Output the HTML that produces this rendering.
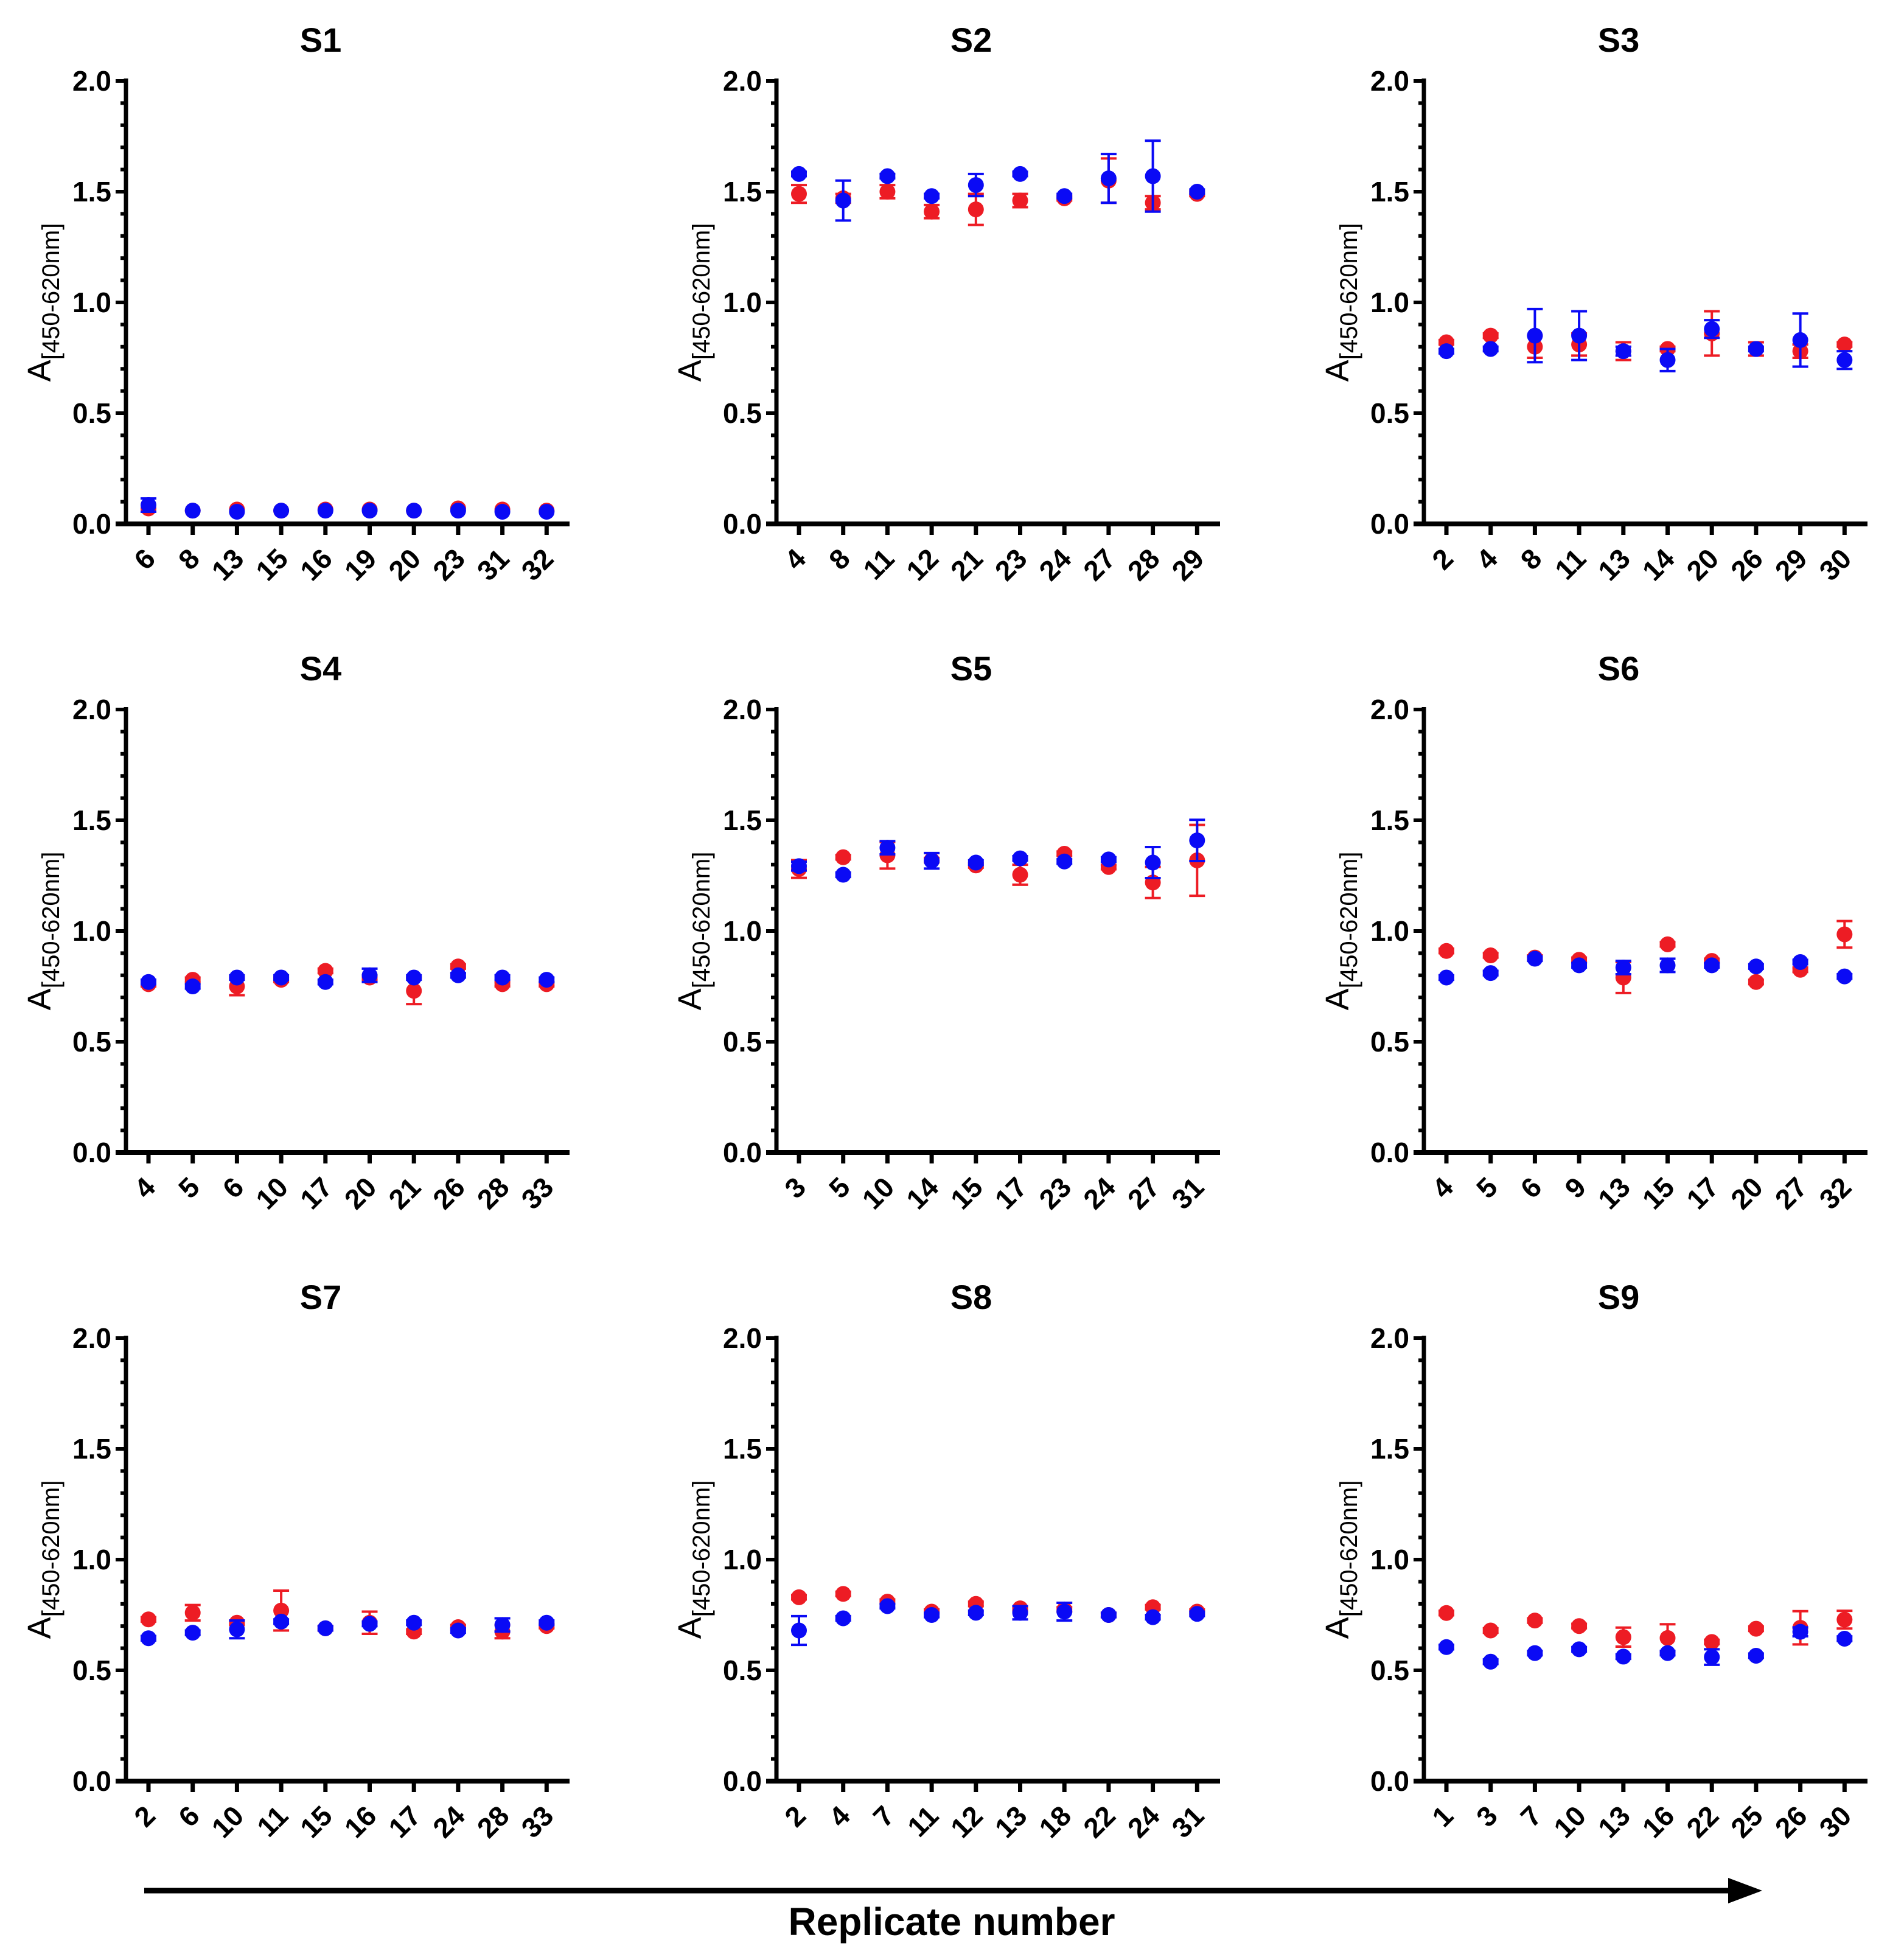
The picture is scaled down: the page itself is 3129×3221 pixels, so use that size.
<!DOCTYPE html>
<html><head><meta charset="utf-8"><style>
html,body{margin:0;padding:0;background:#fff;}
svg{display:block;font-family:"Liberation Sans",Arial,sans-serif;}
</style></head><body>
<svg id="chart" width="3129" height="3221" viewBox="0 0 3129 3221" xmlns="http://www.w3.org/2000/svg">
<rect width="3129" height="3221" fill="#fff"/>
<g id="panels"></g>
<line x1="237" y1="3107" x2="2850" y2="3107" stroke="#000" stroke-width="9"/>
<polygon points="2840,3086 2896,3107 2840,3128" fill="#000"/>
<text x="1564" y="3180" font-size="64" font-weight="bold" text-anchor="middle">Replicate  number</text>
</svg>
<script>
const titles = ["S1","S2","S3","S4","S5","S6","S7","S8","S9"];
const cats = [
 [6,8,13,15,16,19,20,23,31,32],
 [4,8,11,12,21,23,24,27,28,29],
 [2,4,8,11,13,14,20,26,29,30],
 [4,5,6,10,17,20,21,26,28,33],
 [3,5,10,14,15,17,23,24,27,31],
 [4,5,6,9,13,15,17,20,27,32],
 [2,6,10,11,15,16,17,24,28,33],
 [2,4,7,11,12,13,18,22,24,31],
 [1,3,7,10,13,16,22,25,26,30]
];
const redVals = [
 [0.07,0.06,0.065,0.06,0.065,0.065,0.06,0.07,0.065,0.06],
 [1.49,1.47,1.50,1.41,1.42,1.46,1.47,1.55,1.45,1.49],
 [0.82,0.85,0.80,0.81,0.78,0.79,0.86,0.79,0.78,0.81],
 [0.76,0.78,0.75,0.78,0.82,0.79,0.73,0.84,0.76,0.76],
 [1.28,1.333,1.342,1.32,1.296,1.254,1.349,1.289,1.219,1.319],
 [0.91,0.89,0.88,0.87,0.79,0.94,0.865,0.77,0.825,0.985],
 [0.73,0.76,0.715,0.77,0.69,0.715,0.675,0.695,0.675,0.70],
 [0.83,0.845,0.81,0.765,0.80,0.78,0.775,0.75,0.785,0.765],
 [0.759,0.68,0.725,0.70,0.65,0.646,0.628,0.688,0.692,0.729]
];
const redErr = [
 [0,0,0,0,0,0,0,0,0,0],
 [0.04,0.02,0.03,0.03,0.07,0.03,0.01,0.10,0.03,0.01],
 [0.01,0.01,0.05,0.05,0.04,0.01,0.10,0.03,0.03,0.01],
 [0.01,0.01,0.04,0.01,0.01,0.01,0.06,0.01,0.01,0.01],
 [0.04,0.01,0.06,0.01,0.01,0.045,0.01,0.01,0.07,0.16],
 [0.01,0.01,0.01,0.01,0.07,0.01,0.01,0.01,0.01,0.06],
 [0.01,0.035,0.01,0.09,0.01,0.05,0.01,0.01,0.03,0.01],
 [0.01,0.01,0.01,0.01,0.01,0.01,0.01,0.01,0.01,0.01],
 [0.01,0.01,0.01,0.01,0.043,0.062,0.01,0.01,0.075,0.04]
];
const blueVals = [
 [0.085,0.06,0.055,0.06,0.06,0.06,0.06,0.06,0.055,0.055],
 [1.58,1.46,1.57,1.48,1.53,1.58,1.48,1.56,1.57,1.50],
 [0.78,0.79,0.85,0.85,0.78,0.74,0.88,0.79,0.83,0.74],
 [0.77,0.75,0.79,0.79,0.77,0.80,0.79,0.80,0.79,0.78],
 [1.293,1.254,1.376,1.317,1.309,1.328,1.314,1.323,1.309,1.409],
 [0.79,0.81,0.875,0.845,0.835,0.845,0.845,0.84,0.86,0.795],
 [0.645,0.67,0.685,0.72,0.69,0.71,0.715,0.68,0.705,0.715],
 [0.68,0.735,0.79,0.75,0.76,0.76,0.765,0.75,0.74,0.755],
 [0.605,0.539,0.578,0.595,0.562,0.578,0.56,0.566,0.674,0.643]
];
const blueErr = [
 [0.03,0,0,0,0,0,0,0,0,0],
 [0.01,0.09,0.01,0.01,0.05,0.01,0.01,0.11,0.16,0.01],
 [0.01,0.01,0.12,0.11,0.02,0.05,0.04,0.01,0.12,0.04],
 [0.01,0.01,0.01,0.01,0.01,0.03,0.01,0.01,0.01,0.01],
 [0.02,0.01,0.03,0.035,0.01,0.01,0.01,0.01,0.07,0.093],
 [0.01,0.01,0.01,0.01,0.03,0.03,0.01,0.01,0.01,0.01],
 [0.01,0.01,0.04,0.01,0.01,0.01,0.01,0.01,0.03,0.01],
 [0.065,0.01,0.01,0.01,0.01,0.03,0.04,0.01,0.01,0.01],
 [0.01,0.01,0.01,0.01,0.01,0.01,0.035,0.01,0.02,0.01]
];
const yTicks = ["0.0","0.5","1.0","1.5","2.0"];

const NS = "http://www.w3.org/2000/svg";
const root = document.getElementById("panels");
const colX = [207,1276,2340], rowY = [133,1166,2199];
const H = 728, W = 729, YMAX = 2;
const RED = "#ED1C24", BLUE = "#0A0AF5";
function mk(tag, attrs, parent){const e=document.createElementNS(NS,tag);for(const k in attrs)e.setAttribute(k,attrs[k]);parent.appendChild(e);return e;}

titles.forEach((t,p)=>{
  const ax = colX[p%3], top = rowY[Math.floor(p/3)], bot = top+H;
  const yS = v => bot - v/YMAX*H;
  const xS = i => ax + 37 + i*72.7;
  const g = mk("g",{},root);
  
  
  const tt = mk("text",{x:ax+320,y:top-48,"font-size":56,"font-weight":"bold","text-anchor":"middle"},g);
  
  
  tt.textContent = t;
  const yl = mk("text",{transform:`translate(${ax-124},${top+H/2}) rotate(-90)`,"text-anchor":"middle","font-size":54},g);
  
  
  const t1 = mk("tspan",{},yl); t1.textContent="A";
  const t2 = mk("tspan",{"font-size":40,dy:14},yl); t2.textContent="[450-620nm]";
  const yaxis = mk("line",{x1:ax,y1:top-4,x2:ax,y2:bot+4,stroke:"#000","stroke-width":7},g);
  
  
  const xaxis = mk("line",{x1:ax-17,y1:bot,x2:ax+W,y2:bot,stroke:"#000","stroke-width":8},g);
  
  
  for(let k=0;k<=20;k++){
    const v=k*0.1, y=yS(v), major=(k%5===0);
    mk("line",{x1:ax-(major?17:9),y1:y,x2:ax,y2:y,stroke:"#000","stroke-width":6},g);
  }
  yTicks.forEach((lab)=>{
    const tl = mk("text",{x:ax-24,y:yS(parseFloat(lab))+16,"font-size":46,"font-weight":"bold","text-anchor":"end"},g);
    
    
    tl.textContent = lab;
  });
  cats[p].forEach((c,i)=>{
    const x=xS(i);
    mk("line",{x1:x,y1:bot,x2:x,y2:bot+18,stroke:"#000","stroke-width":7},g);
    const xl = mk("text",{transform:`translate(${x+14},${bot+60}) rotate(-45)`,"font-size":46,"font-weight":"bold","text-anchor":"end"},g);
    
    
    xl.textContent = c;
  });
  [[redVals,redErr,RED,"red"],[blueVals,blueErr,BLUE,"blue"]].forEach(([vals,errs,col,nm])=>{
    vals[p].forEach((v,i)=>{
      const x=xS(i), e=errs[p][i];
      if(e>0){
        const eb = mk("path",{d:`M${x},${yS(v+e)}V${yS(v-e)}M${x-13},${yS(v+e)}H${x+13}M${x-13},${yS(v-e)}H${x+13}`,stroke:col,"stroke-width":4,fill:"none"},g);
        
        
      }
      const pt = mk("circle",{cx:x,cy:yS(v),r:13,fill:col},g);
      
      
    });
  });
});
</script>
</body></html>
